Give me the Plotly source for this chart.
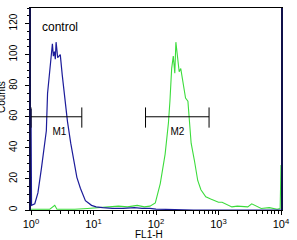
import plotly.graph_objects as go

# Control (blue) histogram
blue_x = [1.0, 1.005, 1.02, 1.15, 1.29, 1.47, 1.76, 1.84, 2.0, 2.1, 2.2, 2.28, 2.37, 2.45, 2.52,
          2.6, 2.67, 2.8, 2.94, 3.16, 3.61, 3.83, 4.32, 4.87, 5.42, 6.17, 7.42, 9.3, 11, 14,
          20, 30, 45, 60, 80, 100, 150, 200, 400, 1000, 3000, 10000]
blue_y = [65, 65, 3, 4, 11, 27, 51, 75, 90, 98, 107, 99, 102, 97, 108,
          103, 98, 99, 100, 87, 66, 57, 43, 32, 21, 14, 6, 3, 2, 1.5,
          1, 1, 1.5, 1, 1, 0.5, 0.5, 0.3, 0, 0, 0, 0]

# Sample (green) histogram
green_x = [1.0, 1.3, 2.0, 2.4, 2.6, 3.5, 5, 8, 12, 18, 25, 35, 50, 65, 80, 97.5, 117, 140, 158,
           167, 178, 189, 200, 208, 218, 235, 249, 271, 297, 324, 344, 365, 411, 465, 523, 626,
           750, 898, 1000, 1142, 1400, 1637, 2000, 2942, 3400, 4820, 6500, 8660, 9700, 9850, 10000]
green_y = [0.5, 0.5, 0.5, 3, 0.5, 0.5, 0.5, 1, 1.5, 2, 2.5, 2, 3, 2, 2.5, 4.5, 17, 36, 56,
           70, 91, 99, 88, 108, 99, 89, 91, 83, 72, 70, 58, 43, 32, 19, 13, 8.5,
           7, 6, 5, 5, 3, 2, 2.5, 2, 4, 1, 1.5, 0.5, 1, 29, 29]

# Gate markers
m1_x = [1.0, 6.5]
m2_x = [68, 706]
gate_y = 60
gate_tick = [53, 66]
m1_label_x, m2_label_x = 2.84, 220
label_y = 50

x_ticks = [1, 10, 100, 1000, 10000]
x_ticktext = ["10<sup>0</sup>", "10<sup>1</sup>", "10<sup>2</sup>", "10<sup>3</sup>", "10<sup>4</sup>"]
y_ticks = [0, 20, 40, 60, 80, 100, 120]

FONT = "Liberation Sans, Arial, sans-serif"
blue = "#1c1c9a"
green = "#3cdc3c"

fig = go.Figure()
fig.add_trace(go.Scatter(x=green_x, y=green_y, mode="lines",
                         line=dict(color=green, width=1.1), hoverinfo="skip"))
fig.add_trace(go.Scatter(x=blue_x, y=blue_y, mode="lines",
                         line=dict(color=blue, width=1.2), hoverinfo="skip"))

for gx in (m1_x, m2_x):
    fig.add_trace(go.Scatter(x=gx, y=[gate_y, gate_y], mode="lines",
                             line=dict(color="black", width=1), hoverinfo="skip"))
    for xx in gx:
        fig.add_trace(go.Scatter(x=[xx, xx], y=gate_tick, mode="lines",
                                 line=dict(color="black", width=1), hoverinfo="skip"))

fig.add_trace(go.Scatter(x=[m1_label_x, m2_label_x], y=[label_y, label_y], mode="text",
                         text=["M1", "M2"], textposition="middle center",
                         textfont=dict(family=FONT, size=10, color="black"),
                         hoverinfo="skip"))

fig.add_annotation(x=0.035, y=0.906, xref="paper", yref="paper", text="control",
                   showarrow=False, font=dict(family=FONT, size=12, color="black"),
                   xanchor="left", yanchor="middle")
fig.add_annotation(x=0.473, y=-0.12, xref="paper", yref="paper", text="FL1-H",
                   showarrow=False, font=dict(family=FONT, size=10, color="black"),
                   xanchor="center", yanchor="middle")
fig.add_annotation(x=-0.118, y=0.557, xref="paper", yref="paper", text="Counts",
                   showarrow=False, textangle=-90,
                   font=dict(family=FONT, size=10, color="black"),
                   xanchor="center", yanchor="middle")

fig.update_layout(
    width=297, height=240,
    margin=dict(l=31, r=10, t=7, b=30),
    paper_bgcolor="white", plot_bgcolor="white",
    showlegend=False,
    font=dict(family=FONT, size=10, color="black"),
    xaxis=dict(type="log", range=[0, 4], tickvals=x_ticks, ticktext=x_ticktext,
               showgrid=False, zeroline=False, showline=True, linecolor="black",
               linewidth=1, mirror=True, ticks="outside", ticklen=4, tickcolor="black",
               minor=dict(ticks="outside", ticklen=3, dtick="D1", tickcolor="black"),
               tickfont=dict(family=FONT, size=11)),
    yaxis=dict(range=[0, 130], tickvals=y_ticks, tickangle=-90,
               showgrid=False, zeroline=False, showline=True, linecolor="#10104a",
               linewidth=1.5, mirror=True, ticks="outside", ticklen=4, tickcolor="black",
               minor=dict(ticks="outside", ticklen=2, dtick=5, tickcolor="black"),
               tickfont=dict(family=FONT, size=10), ticklabelstandoff=4),
)

fig.write_html("out.html")
